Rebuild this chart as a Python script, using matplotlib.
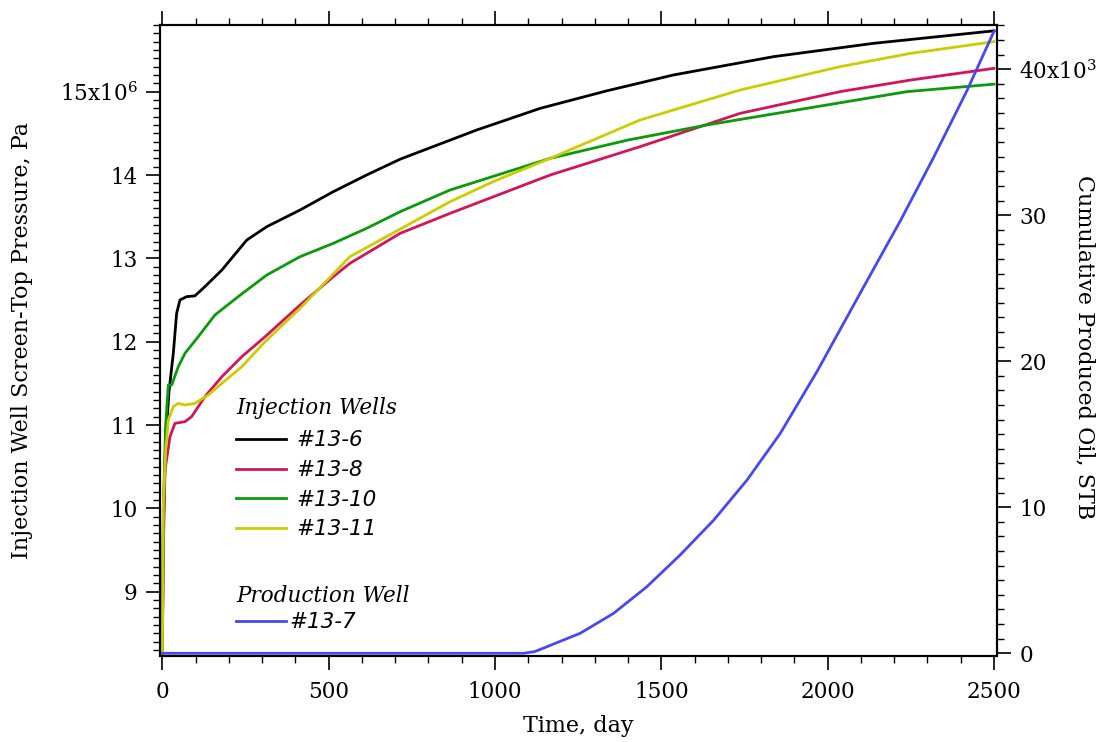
import matplotlib
matplotlib.use("Agg")
import matplotlib.pyplot as plt
from matplotlib.ticker import MultipleLocator, FuncFormatter

plt.rcParams['font.family'] = ['DejaVu Serif']
plt.rcParams['mathtext.fontset'] = 'dejavuserif'

# ---- data ----
t_w6 = [0, 3, 10, 20, 33, 43, 53, 73, 98, 128, 179, 254, 314, 414, 514, 614, 715, 945, 1136, 1336, 1536, 1837, 2138, 2500]
p_w6 = [8.25, 9.8, 10.8, 11.4, 11.86, 12.34, 12.50, 12.54, 12.55, 12.66, 12.86, 13.22, 13.38, 13.58, 13.80, 14.0, 14.19, 14.54, 14.80, 15.01, 15.20, 15.42, 15.58, 15.73]

t_w8 = [0, 3, 8, 23, 38, 68, 88, 128, 179, 239, 309, 414, 514, 564, 715, 865, 1166, 1436, 1737, 2037, 2250, 2500]
p_w8 = [8.25, 9.5, 10.46, 10.86, 11.02, 11.04, 11.10, 11.34, 11.58, 11.82, 12.06, 12.44, 12.78, 12.94, 13.30, 13.54, 14.0, 14.34, 14.74, 15.0, 15.14, 15.28]

t_w10 = [0, 3, 10, 18, 28, 48, 68, 108, 158, 228, 314, 414, 514, 614, 715, 865, 1166, 1400, 1637, 1937, 2238, 2500]
p_w10 = [8.25, 10.0, 11.0, 11.48, 11.48, 11.70, 11.86, 12.06, 12.32, 12.54, 12.80, 13.02, 13.18, 13.36, 13.56, 13.82, 14.20, 14.42, 14.60, 14.80, 15.0, 15.09]

t_w11 = [0, 3, 10, 18, 33, 48, 68, 98, 138, 179, 239, 309, 414, 564, 865, 1000, 1166, 1436, 1737, 2037, 2250, 2500]
p_w11 = [8.25, 10.06, 10.7, 11.06, 11.22, 11.26, 11.24, 11.26, 11.36, 11.50, 11.70, 12.0, 12.40, 13.02, 13.68, 13.93, 14.20, 14.66, 15.02, 15.30, 15.46, 15.60]

t_oil = [0, 1085, 1120, 1156, 1256, 1356, 1456, 1556, 1657, 1757, 1857, 1968, 2118, 2218, 2318, 2418, 2500]
v_oil = [0, 0, 0.12, 0.45, 1.37, 2.73, 4.55, 6.72, 9.11, 11.85, 15.04, 19.3, 25.5, 29.6, 33.94, 38.50, 42.6]

inj_labels = ['#13-6', '#13-8', '#13-10', '#13-11']
prod_label = '#13-7'
colors = ['#000000', '#D4145A', '#0A9A0A', '#CCCC00']
oil_color = '#4848F2'

# ---- figure ----
fig = plt.figure(figsize=(11.01, 7.42), dpi=100)
ax = fig.add_axes([160/1101, 1-656/742, 837/1101, 631/742])
ax2 = ax.twinx()

lw = 2.0
series = [(t_w6, p_w6), (t_w8, p_w8), (t_w10, p_w10), (t_w11, p_w11)]
inj_handles = []
for (t, p), c, lab in zip(series, colors, inj_labels):
    h, = ax.plot(t, p, color=c, lw=lw, label=lab)
    inj_handles.append(h)
oil_h, = ax2.plot(t_oil, v_oil, color=oil_color, lw=lw, label=prod_label)

ax.set_xlim(-7, 2509)
ax.set_ylim(8.228, 15.80)
ax2.set_ylim(-0.185, 43.03)

fs = 15.5
ax.xaxis.set_major_locator(MultipleLocator(500))
ax.xaxis.set_minor_locator(MultipleLocator(100))
ax.yaxis.set_major_locator(MultipleLocator(1))
ax.yaxis.set_minor_locator(MultipleLocator(0.1))
ax2.yaxis.set_major_locator(MultipleLocator(10))
ax2.yaxis.set_minor_locator(MultipleLocator(1))

def left_fmt(v, pos):
    if abs(v - 15) < 1e-6:
        return r'15x10$^{6}$'
    return '%d' % round(v)

def right_fmt(v, pos):
    if abs(v - 40) < 1e-6:
        return r'40x10$^{3}$'
    return '%d' % round(v)

ax.yaxis.set_major_formatter(FuncFormatter(left_fmt))
ax2.yaxis.set_major_formatter(FuncFormatter(right_fmt))

for a in (ax, ax2):
    for s in a.spines.values():
        s.set_linewidth(1.5)

ax.tick_params(axis='x', which='both', direction='out', top=True, bottom=True, labelsize=fs, pad=8)
ax.tick_params(axis='y', which='both', direction='out', left=True, right=False, labelsize=fs, pad=6)
ax.tick_params(which='major', length=10, width=1.2)
ax.tick_params(which='minor', length=5, width=1.0)
ax2.tick_params(axis='y', which='both', direction='out', right=True, labelsize=fs, pad=6)
ax2.tick_params(which='major', length=10, width=1.2)
ax2.tick_params(which='minor', length=5, width=1.0)

ax.set_xlabel('Time, day', fontsize=16)
ax.xaxis.set_label_coords(0.5, -0.094)
ax.set_ylabel('Injection Well Screen-Top Pressure, Pa', fontsize=16)
ax.yaxis.set_label_coords(-0.152, 0.5)
ax2.set_ylabel('Cumulative Produced Oil, STB', fontsize=16, rotation=270, va='center')
ax2.yaxis.set_label_coords(1.105, 0.49)

leg_font = {'family': 'DejaVu Sans', 'style': 'italic', 'size': fs}
title_font = {'family': 'DejaVu Serif', 'style': 'italic', 'size': fs}
leg1 = ax2.legend(handles=inj_handles, loc='upper left', bbox_to_anchor=(0.091, 0.41),
                  frameon=False, prop=leg_font, title='Injection Wells',
                  title_fontproperties=title_font, alignment='left',
                  handlelength=2.3, handletextpad=0.5, labelspacing=0.45,
                  borderaxespad=0, borderpad=0)
leg1._legend_box.sep = 8
ax2.add_artist(leg1)
leg2 = ax2.legend(handles=[oil_h], loc='upper left', bbox_to_anchor=(0.091, 0.113),
                  frameon=False, prop=leg_font, title='Production Well',
                  title_fontproperties=title_font, alignment='left',
                  handlelength=2.3, handletextpad=0.2, labelspacing=0.45,
                  borderaxespad=0, borderpad=0)
leg2._legend_box.sep = 4

fig.savefig('out.png', dpi=100)
